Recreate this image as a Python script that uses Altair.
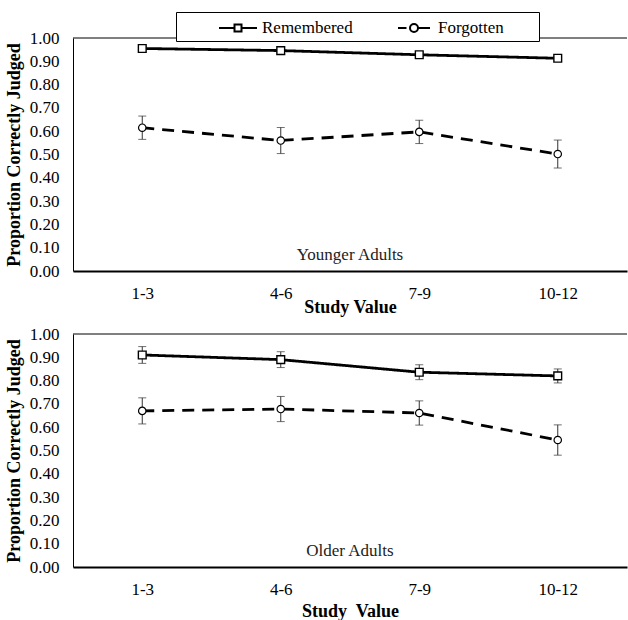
import altair as alt
import pandas as pd

categories = ["1-3", "4-6", "7-9", "10-12"]
series_names = ["Remembered", "Forgotten"]

young_remembered = [0.955, 0.946, 0.928, 0.913]
young_remembered_err = [0.008, 0.008, 0.008, 0.008]
young_forgotten = [0.615, 0.560, 0.597, 0.502]
young_forgotten_err = [0.050, 0.056, 0.050, 0.060]

old_remembered = [0.910, 0.890, 0.836, 0.820]
old_remembered_err = [0.036, 0.034, 0.032, 0.030]
old_forgotten = [0.670, 0.678, 0.661, 0.545]
old_forgotten_err = [0.056, 0.054, 0.052, 0.065]

FONT = "Liberation Serif"
W, H = 554, 233

PATH_REM = "M-1.9,0H-0.35M0.35,0H1.9M-0.35,-0.35H0.35V0.35H-0.35Z"
PATH_FORG = ("M-1.6,0H-0.75M0.4,0H1.6M0.4,0A0.4,0.4 0 1,1 -0.4,0"
             "A0.4,0.4 0 1,1 0.4,0Z")


def make_df(rem, rem_err, forg, forg_err):
    rows = []
    for name, vals, errs in [("Remembered", rem, rem_err), ("Forgotten", forg, forg_err)]:
        for c, v, e in zip(categories, vals, errs):
            rows.append({"cat": c, "series": name, "value": v,
                         "lo": v - e, "hi": v + e})
    return pd.DataFrame(rows)


def panel(df, label, xtitle, title_y, show_legend):
    xenc = alt.X("cat:N", sort=categories,
                 scale=alt.Scale(type="point", padding=0.5),
                 axis=alt.Axis(title=xtitle, labelAngle=0, tickSize=0,
                               domainColor="black", domainWidth=2,
                               labelPadding=14, titleY=title_y,
                               titleBaseline="alphabetic"))
    yscale = alt.Scale(domain=[0, 1], nice=False)
    yaxis = alt.Axis(tickCount=10, format=".2f",
                     title="Proportion Correctly Judged", tickSize=0,
                     labelPadding=14, domainColor="black", domainWidth=1,
                     grid=False, titlePadding=6, labelOverlap=False)
    base = alt.Chart(df)

    lines = base.mark_line(color="black", strokeWidth=2.8).encode(
        x=xenc,
        y=alt.Y("value:Q", scale=yscale, axis=yaxis),
        strokeDash=alt.StrokeDash("series:N",
                                  scale=alt.Scale(domain=series_names,
                                                  range=[[1, 0], [12, 8]]),
                                  legend=None),
        detail="series:N",
    )
    top_rule = alt.Chart(pd.DataFrame({"v": [1.0]})).mark_rule(
        color="black", strokeWidth=1).encode(y=alt.Y("v:Q"))
    err = base.mark_rule(color="#333333", strokeWidth=1).encode(
        x=xenc, y="lo:Q", y2="hi:Q")
    cap_lo = base.mark_tick(color="#333333", thickness=1, size=8).encode(
        x=xenc, y="lo:Q")
    cap_hi = base.mark_tick(color="#333333", thickness=1, size=8).encode(
        x=xenc, y="hi:Q")
    squares = base.transform_filter(alt.datum.series == "Remembered").mark_point(
        shape="square", size=60, filled=True, fill="white", stroke="black",
        strokeWidth=1.4, opacity=1).encode(x=xenc, y="value:Q")
    circles = base.transform_filter(alt.datum.series == "Forgotten").mark_point(
        shape="circle", size=55, filled=True, fill="white", stroke="black",
        strokeWidth=1.2, opacity=1).encode(x=xenc, y="value:Q")
    text = alt.Chart(pd.DataFrame({"t": [label]})).mark_text(
        font=FONT, fontSize=17, color="#222222", baseline="middle").encode(
        text="t:N", x=alt.value(W / 2), y=alt.datum(0.069))

    layers = [lines, top_rule, err, cap_lo, cap_hi, squares, circles, text]
    if show_legend:
        leg = base.mark_point(filled=False, color="black", opacity=0).encode(
            x=xenc, y="value:Q",
            shape=alt.Shape("series:N",
                            scale=alt.Scale(domain=series_names,
                                            range=[PATH_REM, PATH_FORG]),
                            legend=alt.Legend(
                                title="\u00a0", titleOrient="right",
                                titlePadding=30, titleFontSize=11,
                                orient="none", direction="horizontal",
                                legendX=103, legendY=-26, padding=5,
                                strokeColor="black", fillColor="white",
                                symbolSize=400, symbolOffset=46, labelOffset=13,
                                columnPadding=4, symbolStrokeColor="black",
                                symbolFillColor="white", symbolStrokeWidth=2,
                                symbolOpacity=1, labelFont=FONT, labelFontSize=17,
                                labelColor="black",
                            )))
        layers.append(leg)
    return alt.layer(*layers).properties(width=W, height=H)


top = panel(make_df(young_remembered, young_remembered_err,
                    young_forgotten, young_forgotten_err),
            "Younger Adults", "Study Value", 41, True)
bottom = panel(make_df(old_remembered, old_remembered_err,
                       old_forgotten, old_forgotten_err),
               "Older Adults", "Study\u00a0 Value", 49, False)

chart = alt.vconcat(top, bottom, spacing=63, bounds="flush").resolve_scale(
    shape="independent"
).properties(
    padding={"left": 5, "top": 11, "right": 0, "bottom": 6}
).configure_view(stroke=None).configure_axis(
    labelFont=FONT, titleFont=FONT, labelFontSize=17, titleFontSize=18,
    labelColor="black", titleColor="black", titleFontWeight="bold"
)

chart.save("out.html", embed_options={"renderer": "svg", "actions": False})
